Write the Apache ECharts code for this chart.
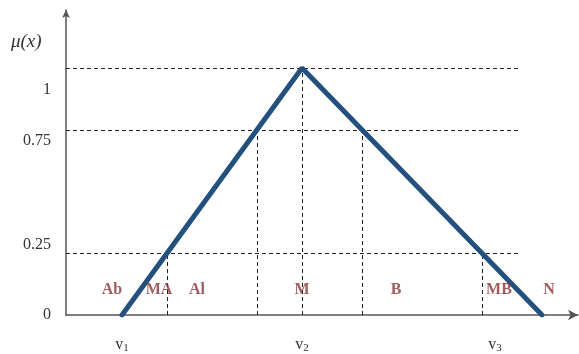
<!DOCTYPE html>
<html>
<head>
<meta charset="utf-8">
<script src="https://cdn.jsdelivr.net/npm/echarts@6/dist/echarts.min.js"></script>
<style>
  html, body { margin: 0; padding: 0; background: #fff; }
  #chart { width: 579px; height: 354px; }
</style>
</head>
<body>
<div id="chart"></div>
<script>
// membership function values, x in abstract units along the universe
const triangleX = [1.12, 4.72, 9.52]
const triangleY = [0, 1, 0]
const levels = [0.25, 0.75, 1]
const guideEnd = 9.04
const dropX = [2.02, 3.82, 4.72, 5.92, 8.32]
const dropTop = [0.25, 0.75, 1, 0.75, 0.25]
const yTicks = [0, 0.25, 0.75, 1]
const yTickLabels = ['0', '0.25', '0.75', '1']
const vTicks = [1.12, 4.72, 8.58]
const vSubs = ['1', '2', '3']
const zoneNames = ['Ab', 'MA', 'Al', 'M', 'B', 'MB', 'N']
const zoneX = [0.92, 1.86, 2.62, 4.72, 6.6, 8.66, 9.66]
const zoneY = 0.1

const serif = 'Liberation Serif'
const chart = echarts.init(document.getElementById('chart'))

const guides = []
levels.forEach((lv) => guides.push({ coords: [[0, lv], [guideEnd, lv]] }))
dropX.forEach((x, i) => guides.push({ coords: [[x, 0], [x, dropTop[i]]] }))

// nudge y labels to where the original drawing put them
const yShift = {
  '0': [0, 0, 0, 0],
  '0.25': [0, 0, 16, 0],
  '0.75': [22, 0, 0, 0],
  '1': [44, 0, 0, 0],
}
const yRich = {}
yTickLabels.forEach((t, i) => {
  yRich['l' + i] = { fontFamily: serif, fontSize: 16, color: '#333', padding: yShift[t] }
})

const option = {
  animation: false,
  title: {
    text: 'μ(x)',
    left: 6,
    top: 27,
    textStyle: { fontFamily: serif, fontStyle: 'italic', fontWeight: 'normal', fontSize: 19, color: '#333' },
  },
  grid: { left: 66, right: 1, top: 10, bottom: 39 },
  xAxis: {
    type: 'value',
    min: 0,
    max: 10.24,
    splitLine: { show: false },
    axisTick: { show: false },
    axisLine: {
      onZero: false,
      symbol: ['none', 'arrow'],
      symbolSize: [8, 10],
      lineStyle: { color: '#555', width: 1.5 },
    },
    axisLabel: {
      customValues: vTicks,
      margin: 21,
      formatter: (v) => {
        const i = vTicks.indexOf(v)
        return i < 0 ? '' : '{v|v}{s|' + vSubs[i] + '}'
      },
      rich: {
        v: { fontFamily: serif, fontSize: 16, color: '#333' },
        s: { fontFamily: serif, fontSize: 11, color: '#333', padding: [7, 0, 0, 0] },
      },
    },
  },
  yAxis: {
    type: 'value',
    min: 0,
    max: 1.235,
    splitLine: { show: false },
    axisTick: { show: false },
    axisLine: {
      symbol: ['none', 'arrow'],
      symbolSize: [6, 8],
      lineStyle: { color: '#555', width: 1.5 },
    },
    axisLabel: {
      customValues: yTicks,
      margin: 15,
      formatter: (v) => {
        const i = yTicks.indexOf(v)
        return i < 0 ? '' : '{l' + i + '|' + yTickLabels[i] + '}'
      },
      rich: yRich,
    },
  },
  series: [
    {
      type: 'lines',
      coordinateSystem: 'cartesian2d',
      data: guides,
      silent: true,
      z: 1,
      lineStyle: { color: '#222', width: 1, type: [4, 3], opacity: 1 },
    },
    {
      type: 'line',
      data: triangleX.map((x, i) => [x, triangleY[i]]),
      symbol: 'none',
      z: 3,
      lineStyle: { color: '#24507e', width: 5, cap: 'round' },
    },
    {
      type: 'scatter',
      symbolSize: 0,
      z: 4,
      data: zoneNames.map((n, i) => ({ name: n, value: [zoneX[i], zoneY] })),
      label: {
        show: true,
        position: 'inside',
        formatter: (p) => p.name,
        fontFamily: serif,
        fontWeight: 'bold',
        fontSize: 16,
        color: '#873434',
      },
    },
  ],
}

chart.setOption(option)
window.addEventListener('resize', () => chart.resize())
</script>
</body>
</html>
